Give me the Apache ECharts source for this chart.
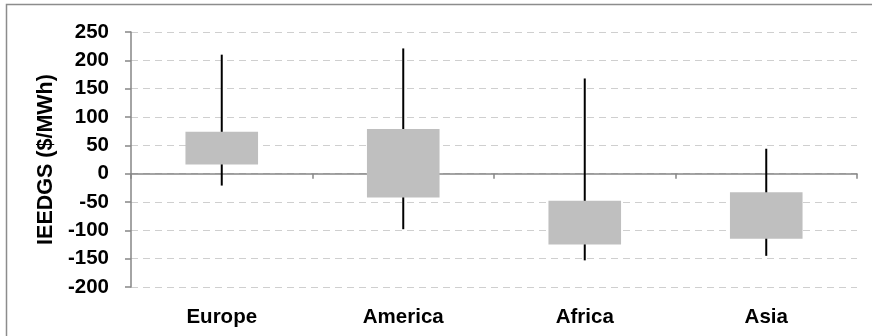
<!DOCTYPE html>
<html>
<head>
<meta charset="utf-8">
<script src="https://cdn.jsdelivr.net/npm/echarts@6/dist/echarts.min.js"></script>
<style>
html,body{margin:0;padding:0;background:#fff;}
#chart{width:872px;height:336px;}
</style>
</head>
<body>
<div id="chart"></div>
<script>
var categories = ['Europe', 'America', 'Africa', 'Asia'];
var whiskerLow = [-21, -98, -153, -145];
var boxLow = [16, -42, -125, -115];
var boxHigh = [74, 79, -48, -33];
var whiskerHigh = [210, 221, 168, 44];
var yTicks = { min: -200, max: 250, interval: 50 };

var data = categories.map(function (c, i) {
  return [i, whiskerLow[i], boxLow[i], boxHigh[i], whiskerHigh[i]];
});

var chart = echarts.init(document.getElementById('chart'));
var fontFam = '"Liberation Sans", Arial, sans-serif';
chart.setOption({
  animation: false,
  backgroundColor: '#fff',
  graphic: [{
    type: 'rect',
    shape: { x: 6.5, y: 4.5, width: 900, height: 400 },
    style: { fill: 'none', stroke: '#8c8c8c', lineWidth: 1.5 },
    silent: true
  }],
  grid: { left: 131, right: 15, top: 32, bottom: 49 },
  xAxis: [{
    type: 'category',
    data: categories,
    position: 'bottom',
    axisLine: { show: false, onZero: false },
    axisTick: { show: false },
    axisLabel: { margin: 20, color: '#000', fontWeight: 'bold', fontSize: 20.5, fontFamily: fontFam },
    splitLine: { show: false }
  }, {
    type: 'category',
    data: categories,
    position: 'bottom',
    axisLine: { show: true, onZero: true, lineStyle: { color: '#868686', width: 1.5 } },
    axisTick: { show: true, inside: false, length: 5, alignWithLabel: false, lineStyle: { color: '#868686', width: 1.5 } },
    axisLabel: { show: false },
    splitLine: { show: false }
  }],
  yAxis: {
    type: 'value',
    min: yTicks.min,
    max: yTicks.max,
    interval: yTicks.interval,
    name: 'IEEDGS ($/MWh)',
    nameLocation: 'middle',
    nameRotate: 90,
    nameGap: 64,
    nameTextStyle: { color: '#000', fontWeight: 'bold', fontSize: 21.5, fontFamily: fontFam },
    axisLine: { show: true, onZero: false, lineStyle: { color: '#868686', width: 1.5 } },
    axisTick: { show: true, length: 6, lineStyle: { color: '#868686', width: 1.5 } },
    axisLabel: { margin: 22, color: '#000', fontWeight: 'bold', fontSize: 20.5, fontFamily: fontFam },
    splitLine: { show: true, lineStyle: { color: '#cfcfcf', width: 1.2, type: [7, 5] } }
  },
  series: [{
    type: 'custom',
    xAxisIndex: 0,
    data: data,
    encode: { x: 0, y: [1, 2, 3, 4] },
    renderItem: function (params, api) {
      var x = api.value(0);
      var pLow = api.coord([x, api.value(1)]);
      var pQ1 = api.coord([x, api.value(2)]);
      var pQ3 = api.coord([x, api.value(3)]);
      var pHigh = api.coord([x, api.value(4)]);
      var w = api.size([1, 0])[0] * 0.4;
      return {
        type: 'group',
        children: [{
          type: 'line',
          shape: { x1: pLow[0], y1: pLow[1], x2: pHigh[0], y2: pHigh[1] },
          style: { stroke: '#000', lineWidth: 2 }
        }, {
          type: 'rect',
          shape: { x: pQ3[0] - w / 2, y: pQ3[1], width: w, height: pQ1[1] - pQ3[1] },
          style: { fill: '#bfbfbf', stroke: null }
        }]
      };
    }
  }]
});
</script>
</body>
</html>
